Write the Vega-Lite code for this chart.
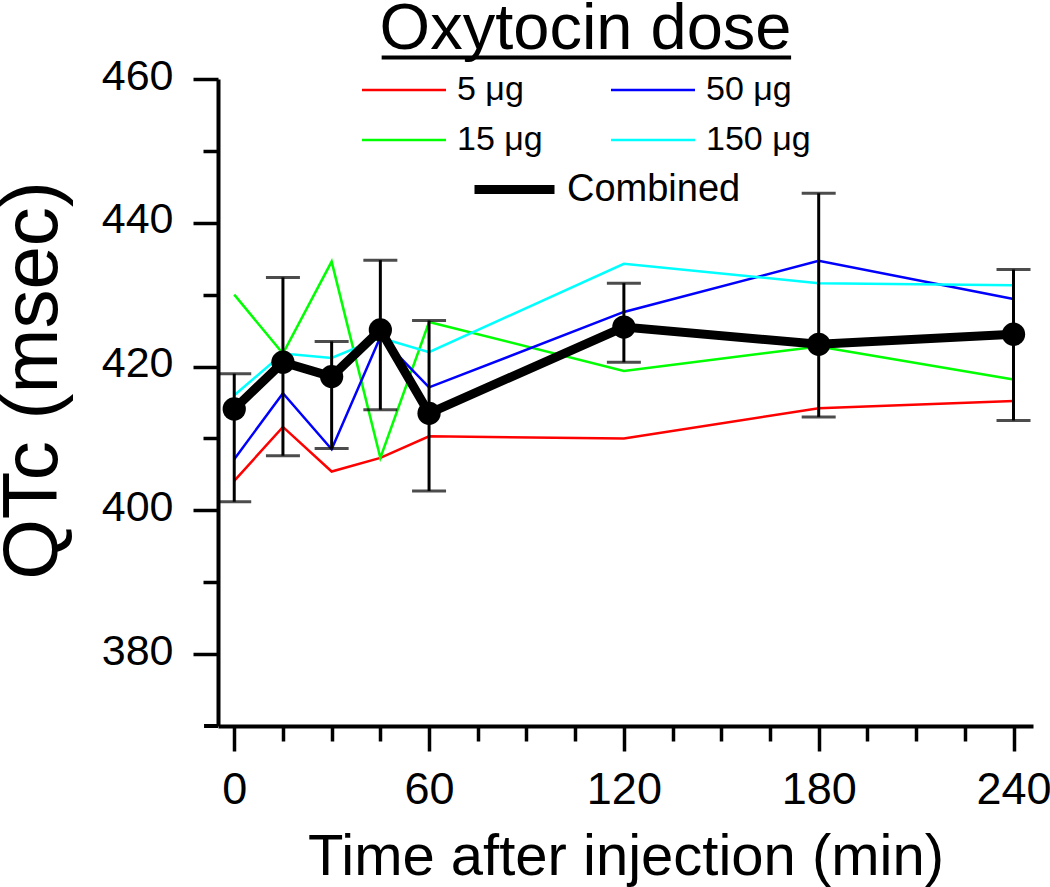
{
  "$schema": "https://vega.github.io/schema/vega-lite/v6.json",
  "width": 815,
  "height": 647,
  "autosize": {"type": "none"},
  "padding": {"left": 218, "top": 79, "right": 17, "bottom": 161},
  "background": "white",
  "config": {
    "view": {"stroke": null},
    "font": "Liberation Sans",
    "axis": {
      "grid": false,
      "domainColor": "black",
      "domainWidth": 4,
      "tickColor": "black",
      "tickWidth": 3.5,
      "labelColor": "black",
      "titleColor": "black",
      "labelFont": "Liberation Sans",
      "titleFont": "Liberation Sans",
      "titleFontWeight": "normal",
      "labelOverlap": false,
      "labelFlush": false,
      "labelBound": false
    },
    "legend": {"labelFont": "Liberation Sans", "labelColor": "black", "padding": 0}
  },
  "datasets": {
    "doses": [
      {"dose": "5 μg", "time": 0, "qtc": 404.1},
      {"dose": "5 μg", "time": 15, "qtc": 411.6},
      {"dose": "5 μg", "time": 30, "qtc": 405.4},
      {"dose": "5 μg", "time": 45, "qtc": 407.3},
      {"dose": "5 μg", "time": 60, "qtc": 410.3},
      {"dose": "5 μg", "time": 120, "qtc": 410.0},
      {"dose": "5 μg", "time": 180, "qtc": 414.2},
      {"dose": "5 μg", "time": 240, "qtc": 415.2},
      {"dose": "15 μg", "time": 0, "qtc": 430.0},
      {"dose": "15 μg", "time": 15, "qtc": 421.8},
      {"dose": "15 μg", "time": 30, "qtc": 434.6},
      {"dose": "15 μg", "time": 45, "qtc": 407.3},
      {"dose": "15 μg", "time": 60, "qtc": 426.2},
      {"dose": "15 μg", "time": 120, "qtc": 419.4},
      {"dose": "15 μg", "time": 180, "qtc": 422.8},
      {"dose": "15 μg", "time": 240, "qtc": 418.2},
      {"dose": "50 μg", "time": 0, "qtc": 407.1},
      {"dose": "50 μg", "time": 15, "qtc": 416.3},
      {"dose": "50 μg", "time": 30, "qtc": 408.5},
      {"dose": "50 μg", "time": 45, "qtc": 424.1},
      {"dose": "50 μg", "time": 60, "qtc": 417.1},
      {"dose": "50 μg", "time": 120, "qtc": 427.6},
      {"dose": "50 μg", "time": 180, "qtc": 434.7},
      {"dose": "50 μg", "time": 240, "qtc": 429.4},
      {"dose": "150 μg", "time": 0, "qtc": 416.0},
      {"dose": "150 μg", "time": 15, "qtc": 421.8},
      {"dose": "150 μg", "time": 30, "qtc": 421.2},
      {"dose": "150 μg", "time": 45, "qtc": 424.0},
      {"dose": "150 μg", "time": 60, "qtc": 422.0},
      {"dose": "150 μg", "time": 120, "qtc": 434.3},
      {"dose": "150 μg", "time": 180, "qtc": 431.6},
      {"dose": "150 μg", "time": 240, "qtc": 431.3}
    ],
    "combined": [
      {"series": "Combined", "time": 0, "qtc": 414.1, "lo": 401.2, "hi": 419.0},
      {"series": "Combined", "time": 15, "qtc": 420.6, "lo": 407.6, "hi": 432.4},
      {"series": "Combined", "time": 30, "qtc": 418.6, "lo": 408.6, "hi": 423.5},
      {"series": "Combined", "time": 45, "qtc": 425.1, "lo": 414.0, "hi": 434.8},
      {"series": "Combined", "time": 60, "qtc": 413.5, "lo": 402.7, "hi": 426.4},
      {"series": "Combined", "time": 120, "qtc": 425.5, "lo": 420.6, "hi": 431.6},
      {"series": "Combined", "time": 180, "qtc": 423.1, "lo": 413.0, "hi": 444.1},
      {"series": "Combined", "time": 240, "qtc": 424.5, "lo": 412.5, "hi": 433.5}
    ],
    "title": [{"label": "Oxytocin dose"}]
  },
  "layer": [
    {
      "data": {"name": "doses"},
      "mark": {"type": "line", "strokeWidth": 2.5},
      "encoding": {
        "x": {
          "field": "time",
          "type": "quantitative",
          "scale": {"domain": [-5, 246], "nice": false, "zero": false},
          "axis": {
            "values": [0, 15, 30, 45, 60, 75, 90, 105, 120, 135, 150, 165, 180, 195, 210, 225, 240],
            "labelExpr": "datum.value % 60 === 0 ? datum.label : ''",
            "tickSize": {"condition": {"test": "datum.value % 60 === 0", "value": 25}, "value": 15},
            "domainWidth": 4,
            "tickWidth": 3.5,
            "domainColor": "black",
            "tickColor": "black",
            "labelFontSize": 45,
            "labelPadding": 16,
            "title": "Time after injection (min)",
            "titleFontSize": 58,
            "titlePadding": 16
          }
        },
        "y": {
          "field": "qtc",
          "type": "quantitative",
          "scale": {"domain": [370, 460], "nice": false, "zero": false},
          "axis": {
            "values": [380, 390, 400, 410, 420, 430, 440, 450, 460],
            "labelExpr": "datum.value % 20 === 0 ? datum.label : ''",
            "tickSize": {"condition": {"test": "datum.value % 20 === 0", "value": 25}, "value": 15},
            "domainWidth": 4,
            "tickWidth": 3.5,
            "domainColor": "black",
            "tickColor": "black",
            "labelFontSize": 43,
            "labelPadding": 20,
            "labelOffset": -3,
            "title": "QTc (msec)",
            "titleFontSize": 78,
            "titleX": -162,
            "titleY": 301,
            "titleBaseline": "alphabetic"
          }
        },
        "color": {
          "field": "dose",
          "type": "nominal",
          "scale": {
            "domain": ["5 μg", "15 μg", "50 μg", "150 μg"],
            "range": ["#ff0000", "#00ff00", "#0000ff", "#00ffff"]
          },
          "legend": {
            "orient": "none",
            "legendX": 169,
            "legendY": -6,
            "columns": 2,
            "title": null,
            "symbolType": "M-2.8,0H2.8",
            "symbolSize": 900,
            "symbolStrokeWidth": 2.5,
            "labelFontSize": 34,
            "labelOffset": 36,
            "columnPadding": 63,
            "rowPadding": 16
          }
        }
      }
    },
    {
      "data": {"name": "combined"},
      "mark": {"type": "line", "strokeWidth": 9, "strokeCap": "round"},
      "encoding": {
        "x": {"field": "time", "type": "quantitative"},
        "y": {"field": "qtc", "type": "quantitative"},
        "color": {
          "field": "series",
          "type": "nominal",
          "scale": {"domain": ["Combined"], "range": ["#000000"]},
          "legend": {
            "orient": "none",
            "legendX": 252,
            "legendY": 66,
            "title": null,
            "symbolType": "stroke",
            "symbolSize": 6400,
            "symbolStrokeWidth": 9,
            "labelFontSize": 38,
            "labelOffset": 8,
            "labelLimit": 400
          }
        }
      }
    },
    {
      "data": {"name": "combined"},
      "mark": {"type": "rule", "strokeWidth": 3, "color": "black"},
      "encoding": {
        "x": {"field": "time", "type": "quantitative"},
        "y": {"field": "lo", "type": "quantitative"},
        "y2": {"field": "hi"}
      }
    },
    {
      "data": {"name": "combined"},
      "mark": {"type": "tick", "orient": "horizontal", "size": 34, "thickness": 3, "color": "black"},
      "encoding": {
        "x": {"field": "time", "type": "quantitative"},
        "y": {"field": "lo", "type": "quantitative"}
      }
    },
    {
      "data": {"name": "combined"},
      "mark": {"type": "tick", "orient": "horizontal", "size": 34, "thickness": 3, "color": "black"},
      "encoding": {
        "x": {"field": "time", "type": "quantitative"},
        "y": {"field": "hi", "type": "quantitative"}
      }
    },
    {
      "data": {"name": "combined"},
      "mark": {"type": "point", "filled": true, "size": 540, "color": "black", "opacity": 1},
      "encoding": {
        "x": {"field": "time", "type": "quantitative"},
        "y": {"field": "qtc", "type": "quantitative"}
      }
    },
    {
      "data": {"name": "title"},
      "mark": {"type": "text", "fontSize": 65, "baseline": "alphabetic", "align": "center", "color": "black", "font": "Liberation Sans"},
      "encoding": {
        "x": {"datum": 108.2},
        "y": {"datum": 464.2},
        "text": {"field": "label"}
      }
    },
    {
      "data": {"name": "title"},
      "mark": {"type": "rule", "strokeWidth": 4, "color": "black"},
      "encoding": {
        "x": {"datum": 45.4},
        "x2": {"datum": 171.5},
        "y": {"datum": 463.0}
      }
    },
    {
      "data": {"name": "title"},
      "mark": {"type": "rule", "strokeWidth": 4, "color": "black"},
      "encoding": {
        "x": {"datum": -9.3},
        "x2": {"datum": -5},
        "y": {"datum": 370}
      }
    }
  ],
  "resolve": {"scale": {"color": "independent"}}
}
